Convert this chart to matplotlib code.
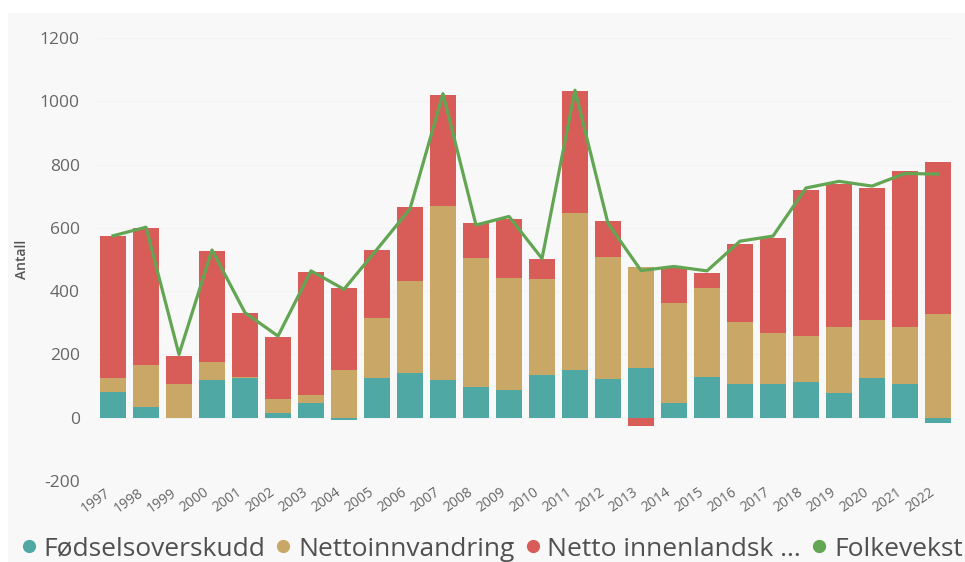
import numpy as np
import matplotlib.pyplot as plt
from matplotlib.patches import Rectangle
from matplotlib.lines import Line2D

plt.rcParams['font.family'] = ['Open Sans', 'DejaVu Sans']
plt.rcParams['axes.unicode_minus'] = False

years = [str(y) for y in range(1997, 2023)]
fodselsoverskudd = [82, 34, 0, 118, 126, 14, 48, -8, 127, 141, 118, 98, 87, 135,
                    150, 121, 158, 48, 130, 105, 107, 112, 79, 126, 105, -17]
nettoinnvandring = [45, 132, 105, 57, 4, 45, 23, 150, 189, 291, 550, 407, 355, 302,
                    496, 388, 319, 315, 281, 199, 160, 145, 208, 182, 182, 329]
netto_innenlandsk = [448, 434, 90, 352, 202, 195, 391, 261, 214, 233, 352, 111, 187, 64,
                     385, 113, -25, 110, 45, 245, 302, 464, 451, 419, 493, 479]
folkevekst = [575, 602, 200, 530, 332, 258, 464, 406, 532, 660, 1024, 609, 636, 503,
              1035, 614, 465, 478, 464, 558, 574, 726, 747, 732, 772, 770]

farger = ['#4FA8A4', '#C9A766', '#D85D59']
navn = ['Fødselsoverskudd', 'Nettoinnvandring', 'Netto innenlandsk ...']
linjefarge = '#62A552'
bakgrunn = '#F8F8F8'

fig = plt.figure(figsize=(9.65, 5.62), dpi=100)
fig.patch.set_facecolor('white')
fig.patches.append(Rectangle((8 / 965, 0), 1, 1 - 13 / 562, transform=fig.transFigure,
                             facecolor=bakgrunn, edgecolor='none', zorder=-1))

ax = fig.add_axes([96.5 / 965, 1 - 481 / 562, (954.5 - 96.5) / 965, (481 - 38) / 562])
ax.set_facecolor(bakgrunn)

x = np.arange(len(years))
pos = np.zeros(len(years))
neg = np.zeros(len(years))
for serie, farge in zip([fodselsoverskudd, nettoinnvandring, netto_innenlandsk], farger):
    v = np.array(serie, dtype=float)
    bunn = np.where(v >= 0, pos, neg)
    ax.bar(x, v, bottom=bunn, width=0.78, color=farge, zorder=2)
    pos = pos + np.where(v >= 0, v, 0)
    neg = neg + np.where(v < 0, v, 0)

ax.plot(x, folkevekst, color=linjefarge, linewidth=2.3, zorder=3)

ax.set_xlim(-0.5, len(years) - 0.5)
ax.set_ylim(-200, 1200)
ax.set_yticks(range(-200, 1201, 200))
ax.tick_params(axis='y', length=0, labelsize=12.5, labelcolor='#666666', pad=12)
ax.set_xticks(x)
ax.set_xticklabels(years, rotation=35, ha='right', va='top')
ax.tick_params(axis='x', length=0, labelsize=10, labelcolor='#666666', pad=3)
for s in ax.spines.values():
    s.set_visible(False)
ax.grid(axis='y', color='#F3F3F3', linewidth=0.8, zorder=0)
ax.set_ylabel('Antall', fontsize=10, color='#555555', fontweight='semibold', labelpad=8)

handles = [Line2D([], [], marker='o', linestyle='none', markersize=8.5,
                  markerfacecolor=f, markeredgecolor=f) for f in farger]
handles.append(Line2D([], [], marker='o', linestyle='none', markersize=8.5,
                      markerfacecolor=linjefarge, markeredgecolor=linjefarge))
fig.legend(handles, navn + ['Folkevekst'], loc='center left', bbox_to_anchor=(18 / 965, 1 - 549 / 562),
           ncol=4, frameon=False, fontsize=19, labelcolor='#505050',
           handletextpad=0.15, columnspacing=0.3, handlelength=0.8, borderpad=0, borderaxespad=0)

fig.savefig('out.png', dpi=100, facecolor=fig.get_facecolor())
